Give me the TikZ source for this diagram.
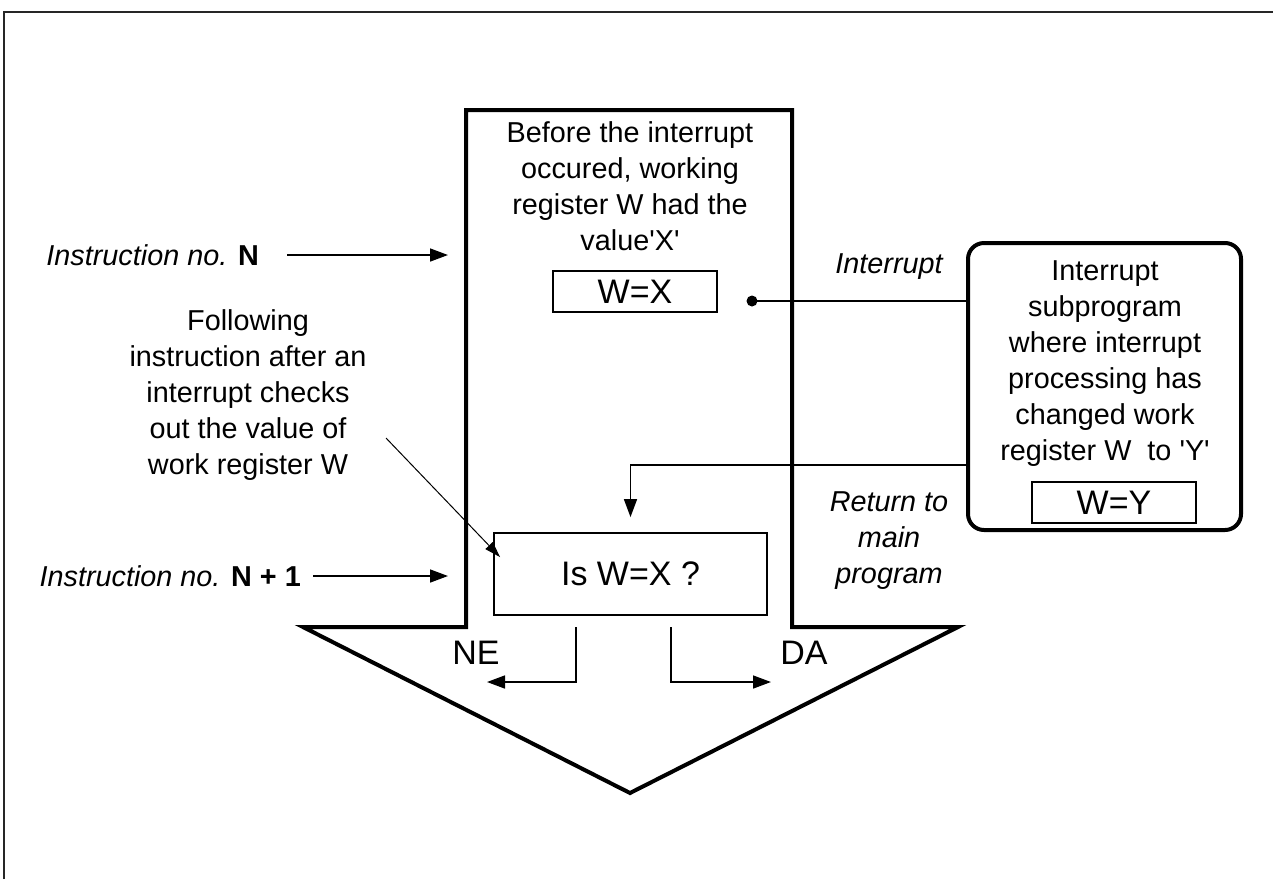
\documentclass[tikz,border=0pt]{standalone}
\usepackage{fontspec}
\setmainfont{Liberation Sans}
\usetikzlibrary{arrows.meta}
\begin{document}
\begin{tikzpicture}[x=1pt,y=-1pt,
  txt/.style={font=\fontsize{28.8}{36}\selectfont, align=center, inner sep=0pt},
  itxt/.style={font=\fontsize{28.8}{36}\selectfont\itshape, align=center, inner sep=0pt},
  bigtxt/.style={font=\fontsize{34}{40}\selectfont, inner sep=0pt},
  thickline/.style={line width=4pt, line join=miter},
  conn/.style={line width=1.6pt},
  tipped/.style={-{Triangle[length=18pt,width=13pt]}},
  regbox/.style={draw, line width=1.8pt, minimum width=164pt, minimum height=41pt, bigtxt},
]
\useasboundingbox (0,0) rectangle (1273,879);
% frame
\draw[line width=1.5pt, black!85] (4,879) -- (4,12) -- (1273,12);

% big arrow
\coordinate (sTL) at (466,110);
\coordinate (sTR) at (792,110);
\draw[thickline] (sTL) -- (sTR) -- (792,627) -- (958,627) -- (630,793) -- (303,627) -- (466,627) -- cycle;

% top text
\node[txt] (before) at (630,186) {Before the interrupt\\occured, working\\register W had the\\value\textquotesingle X\textquotesingle};
\node[regbox] (wx) at (635,291.5) {W=X};

% interrupt
\coordinate (dot) at (752,301);
\fill (dot) circle[radius=5.5pt];
\node[draw, line width=4pt, rounded corners=16pt, minimum width=273pt, minimum height=287pt, inner sep=0pt] (intbox) at (1104.5,386.5) {};
\draw[conn] (dot) -- (intbox.west |- dot);
\node[itxt] (intlbl) at (889,267) {Interrupt};
\node[txt] (inttxt) at (1105,364) {Interrupt\\subprogram\\where interrupt\\processing has\\changed work\\register W\ \ to \textquotesingle Y\textquotesingle};
\node[regbox] (wy) at (1114,502.5) {W=Y};

% is box
\node[draw, line width=1.8pt, minimum width=273pt, minimum height=82pt, bigtxt] (isbox) at (630.5,574) {Is W=X ?};

% return
\coordinate (ret) at (968,465);
\draw[conn, tipped] (ret) -| ([yshift=15pt]isbox.north);
\node[itxt] (retlbl) at (889,541) {Return to\\main\\program};

% instructions
\node[itxt, anchor=east] (instrN) at (259,255) {Instruction no. \textbf{\upshape N}};
\coordinate (pN) at (448,255);
\draw[conn, tipped] ([xshift=28pt]instrN.east) -- (pN);
\node[itxt, anchor=east] (instrN1) at (301,576) {Instruction no. \textbf{\upshape N + 1}};
\coordinate (pN1) at (448,576);
\draw[conn, tipped] ([xshift=12pt]instrN1.east) -- (pN1);

% following text
\node[txt] (follow) at (248,395) {Following\\instruction after an\\interrupt checks\\out the value of\\work register W};
\coordinate (ptrs) at (386,438);
\draw[line width=1pt, -{Triangle[length=16pt,width=10pt]}] (ptrs) -- ([xshift=7pt,yshift=-25pt]isbox.north west);

% NE / DA
\coordinate (ne0) at (576,627);
\coordinate (ne1) at (487,682);
\draw[conn, tipped] (ne0) |- (ne1);
\coordinate (da0) at (671,627);
\coordinate (da1) at (771,682);
\draw[conn, tipped] (da0) |- (da1);
\node[bigtxt] (ne) at (476,653) {NE};
\node[bigtxt] (da) at (804,653) {DA};
\end{tikzpicture}
\end{document}
